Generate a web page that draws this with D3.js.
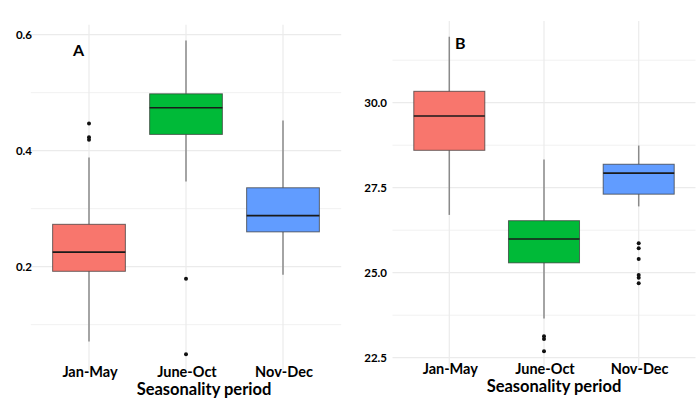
<!DOCTYPE html>
<html><head><meta charset="utf-8">
<script src="https://cdn.jsdelivr.net/npm/d3@7"></script>
<style>body{margin:0;background:#fff}svg{display:block}text{font-family:Lato,"Open Sans",sans-serif;font-weight:bold;fill:#000}</style>
</head><body><svg id="c" width="700" height="399"></svg>
<script>
const categories = ["Jan-May", "June-Oct", "Nov-Dec"];
const colors = ["#F8766D", "#00BA38", "#619CFF"];
// Panel A: [lowWhisker, Q1, median, Q3, highWhisker]
const statsA = [
  [0.071, 0.192, 0.225, 0.273, 0.388],
  [0.347, 0.428, 0.474, 0.498, 0.590],
  [0.186, 0.260, 0.288, 0.336, 0.452]
];
const outliersA = [[0.447, 0.423, 0.419], [0.179, 0.049], []];
const ticksA = [0.2, 0.4, 0.6];
const minorA = [0.1, 0.3, 0.5];
// Panel B
const statsB = [
  [26.70, 28.60, 29.61, 30.335, 31.94],
  [23.65, 25.29, 25.99, 26.53, 28.33],
  [26.95, 27.31, 27.93, 28.19, 28.74]
];
const outliersB = [[], [23.13, 23.05, 22.69], [25.87, 25.72, 25.40, 24.93, 24.85, 24.69]];
const ticksB = [22.5, 25.0, 27.5, 30.0];
const minorB = [23.75, 26.25, 28.75, 31.25];
const xTitle = "Seasonality period";

const svg = d3.select("#c");

function panel(cfg) {
  const g = svg.append("g");
  const x = d3.scalePoint().domain(categories).range([cfg.x0, cfg.x1]);
  const step = x.step();
  const left = cfg.x0 - 0.6 * step, right = cfg.x1 + 0.6 * step;
  const y = d3.scaleLinear().domain(cfg.domain).range([cfg.yBottom, cfg.yTop]);
  const bw = 0.75 * step;
  g.selectAll(".gm").data(cfg.minor).join("line")
    .attr("x1", left).attr("x2", right).attr("y1", d => y(d)).attr("y2", d => y(d))
    .attr("stroke", "#f1f1f1").attr("stroke-width", 1);
  g.selectAll(".gM").data(cfg.ticks).join("line")
    .attr("x1", left).attr("x2", right).attr("y1", d => y(d)).attr("y2", d => y(d))
    .attr("stroke", "#ebebeb").attr("stroke-width", 1.2);
  g.selectAll(".gv").data(categories).join("line")
    .attr("x1", d => x(d)).attr("x2", d => x(d)).attr("y1", cfg.yTop).attr("y2", cfg.yBottom)
    .attr("stroke", "#ebebeb").attr("stroke-width", 1.2);
  g.selectAll(".yt").data(cfg.ticks).join("text")
    .attr("x", cfg.labelRight).attr("y", d => y(d)).attr("dy", "0.35em")
    .attr("text-anchor", "end").attr("font-size", 11.5)
    .text(d => cfg.fmt(d));
  categories.forEach((c, i) => {
    const s = cfg.stats[i], cx = x(c);
    g.append("line").attr("x1", cx).attr("x2", cx).attr("y1", y(s[0])).attr("y2", y(s[1]))
      .attr("stroke", "#8a8a8a").attr("stroke-width", 1.5);
    g.append("line").attr("x1", cx).attr("x2", cx).attr("y1", y(s[3])).attr("y2", y(s[4]))
      .attr("stroke", "#8a8a8a").attr("stroke-width", 1.5);
    g.append("rect").attr("x", cx - bw / 2).attr("width", bw)
      .attr("y", y(s[3])).attr("height", y(s[1]) - y(s[3]))
      .attr("fill", colors[i]).attr("stroke", "#333").attr("stroke-opacity", 0.7).attr("stroke-width", 1);
    g.append("line").attr("x1", cx - bw / 2).attr("x2", cx + bw / 2).attr("y1", y(s[2])).attr("y2", y(s[2]))
      .attr("stroke", "#1a1a1a").attr("stroke-width", 1.6);
    g.selectAll(null).data(cfg.outliers[i]).join("circle")
      .attr("cx", cx).attr("cy", d => y(d)).attr("r", 2).attr("fill", "#111");
  });
  g.selectAll(".xt").data(categories).join("text")
    .attr("x", d => x(d) + cfg.xlabDx).attr("y", cfg.xlabY).attr("text-anchor", "middle")
    .attr("font-size", 14.5).text(d => d);
  g.append("text").attr("x", cfg.titleX).attr("y", cfg.titleY).attr("text-anchor", "middle")
    .attr("font-size", 16.5).text(xTitle);
  g.append("text").attr("x", cfg.tagX).attr("y", cfg.tagY).attr("font-size", cfg.tagSize).text(cfg.tag);
}

panel({
  x0: 89, x1: 283, domain: [0.022, 0.617], yBottom: 369.9, yTop: 24.8,
  ticks: ticksA, minor: minorA, stats: statsA, outliers: outliersA,
  fmt: d3.format(".1f"), labelRight: 32, xlabDx: 1, xlabY: 377, titleX: 204, titleY: 395,
  tag: "A", tagX: 73, tagY: 56, tagSize: 16
});
panel({
  x0: 449.3, x1: 638.7, domain: [22.23, 32.4], yBottom: 366.9, yTop: 21.1,
  ticks: ticksB, minor: minorB, stats: statsB, outliers: outliersB,
  fmt: d3.format(".1f"), labelRight: 387, xlabDx: 1, xlabY: 374, titleX: 554, titleY: 392,
  tag: "B", tagX: 455, tagY: 49, tagSize: 16
});
</script></body></html>
